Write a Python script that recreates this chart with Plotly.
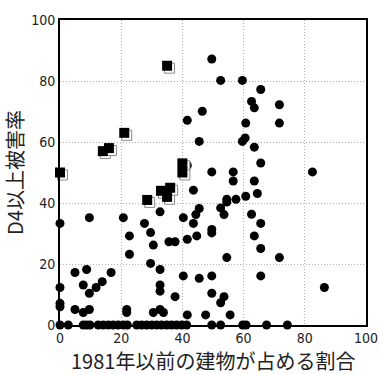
import plotly.graph_objects as go

# Circles (non-zero)
circ_x = [0, 0, 0, 0,
          4.9, 4.9, 7.6, 7.6, 8.7, 9.6, 9.6, 9.6, 11.8, 13.8, 16.7,
          20.7, 21.8, 21.8, 22.7, 22.7,
          27.6, 29.6, 29.6, 30.5, 30.5, 32.7, 32.7, 32.7, 32.7, 32.7, 33.8, 35.6, 37.6, 37.6,
          40.3, 40.3, 41.6, 41.6, 41.6, 41.6, 43.6, 43.6, 44.4, 44.7, 45.5, 45.5, 45.5, 46.5, 47.6,
          49.6, 49.6, 49.6, 49.6, 49.6, 49.6,
          52.5, 52.5, 52.5, 53.6, 53.6, 54.5, 54.5, 54.5, 55.6, 56.6, 56.6, 57.5,
          59.6, 59.6, 60.5, 60.7, 60.7,
          62.6, 62.6, 63.5, 63.5, 63.5, 63.5, 64.5, 65.6, 65.6, 65.6, 65.6, 65.6,
          71.7, 71.7, 71.7, 82.5, 86.4]
circ_y = [33.3, 12.3, 7.1, 6.0,
          17.2, 5.1, 13.1, 4.1, 18.2, 35.2, 10.4, 5.1, 12.3, 14.2, 17.2,
          35.2, 5.1, 4.1, 29.2, 23.2,
          33.3, 30.3, 20.2, 26.2, 4.1, 37.1, 18.2, 13.1, 11.1, 5.1, 4.1, 27.3, 27.3, 9.3,
          35.2, 16.1, 67.1, 52.3, 28.1, 3.3, 33.3, 44.2, 36.2, 29.2, 38.2, 15.3, 60.2, 70.1, 3.3,
          87.2, 50.2, 31.3, 30.2, 16.1, 10.4,
          80.2, 38.4, 7.3, 9.3, 36.2, 40.3, 41.2, 22.1, 3.3, 50.2, 47.2, 41.2,
          80.2, 60.2, 61.3, 66.2, 42.2,
          73.3, 36.3, 71.2, 58.3, 47.2, 29.2, 43.1, 77.2, 53.1, 33.3, 25.1, 16.1,
          72.2, 66.2, 22.1, 50.2, 12.3]

# Circles on zero line
zero_x = [0, 2.7, 7.6, 8.7, 9.8, 12.5, 14.1, 15.8, 17.4, 19.0, 20.7, 22.0, 25.1, 26.7,
          28.3, 30.0, 31.6, 33.2, 34.9, 36.5, 38.1, 39.8, 41.4, 49.6, 52.5, 59.7,
          60.8, 67.5, 74.3]
zero_y = [0] * len(zero_x)

# Squares
sq_x = [0, 14, 16, 21, 35, 28.5, 33, 35, 36, 40, 40]
sq_y = [50, 57, 58, 63, 85, 41, 44, 42, 45, 53, 50]

x_ticks = [0, 20, 40, 60, 80, 100]
y_ticks = [0, 20, 40, 60, 80, 100]

x_title = "1981年以前の建物が占める割合"
y_title = "D4以上被害率"

shadow_dx = 0.8
shadow_dy = -0.8

fig = go.Figure()
fig.add_trace(go.Scatter(
    x=circ_x + zero_x, y=circ_y + zero_y, mode="markers",
    marker=dict(symbol="circle", size=9, color="black", line=dict(width=0)),
    cliponaxis=False, showlegend=False))
fig.add_trace(go.Scatter(
    x=[v + shadow_dx for v in sq_x], y=[v + shadow_dy for v in sq_y], mode="markers",
    marker=dict(symbol="square", size=10, color="white", line=dict(width=1, color="#888")),
    cliponaxis=False, showlegend=False))
fig.add_trace(go.Scatter(
    x=sq_x, y=sq_y, mode="markers",
    marker=dict(symbol="square", size=10, color="black", line=dict(width=0)),
    cliponaxis=False, showlegend=False))

tick_font = dict(family="Liberation Sans Narrow, DejaVu Sans Condensed, Arial Narrow, sans-serif",
                 size=14, color="#222")
title_font = dict(family="Noto Sans CJK JP, sans-serif", size=20, color="#222")

axis_common = dict(
    range=[0, 100], showgrid=True, gridcolor="#b0b0b0", griddash="1px,2px", gridwidth=1,
    zeroline=False, showline=True, linecolor="black", linewidth=2, mirror=True,
    ticks="", tickfont=tick_font, title_font=title_font, fixedrange=True,
    automargin=False,
)

fig.update_layout(
    width=379, height=374,
    margin=dict(l=60, r=13, t=20, b=49),
    paper_bgcolor="white", plot_bgcolor="white",
    xaxis=dict(**axis_common, tickvals=x_ticks, ticktext=[str(t) for t in x_ticks],
               ticklabelstandoff=-1),
    yaxis=dict(**axis_common, tickvals=y_ticks, ticktext=[str(t) for t in y_ticks],
               title=dict(text=y_title)),
    annotations=[dict(text=x_title, xref="paper", yref="paper", x=0.5, y=-0.118,
                      xanchor="center", yanchor="middle", showarrow=False,
                      font=title_font)],
)

fig.write_html("out.html")
